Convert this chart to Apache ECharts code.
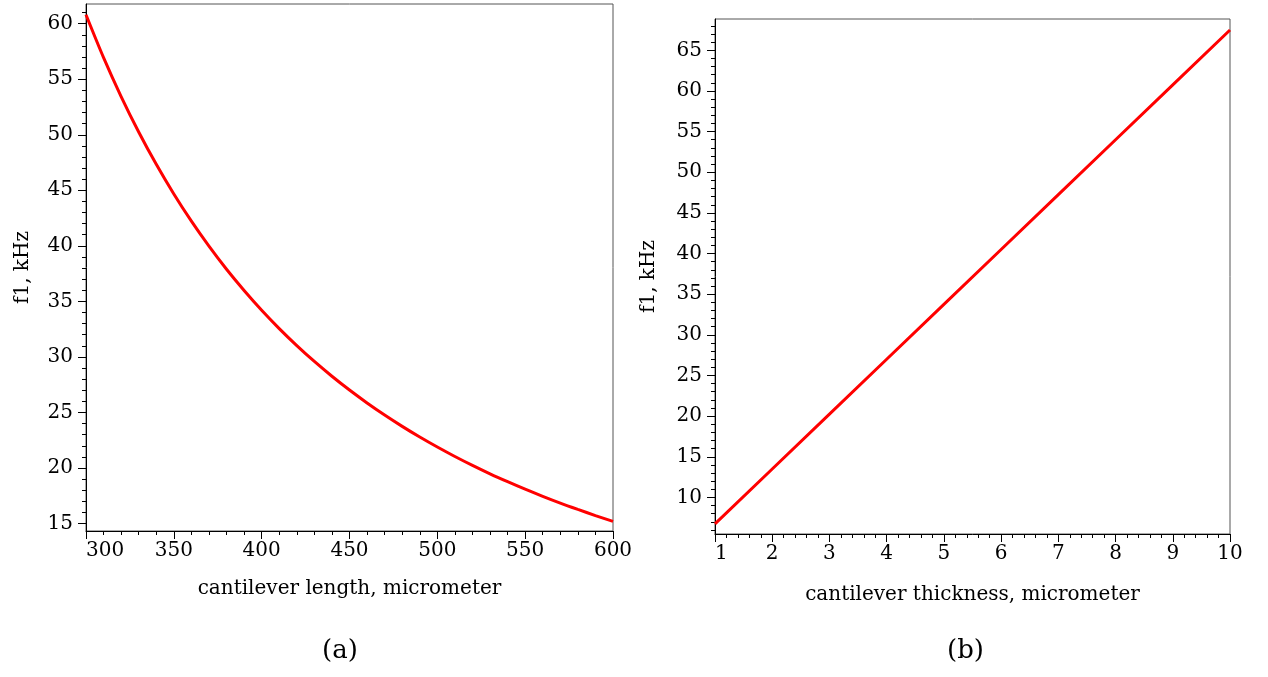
<!DOCTYPE html>
<html><head><meta charset="utf-8">
<script src="https://cdn.jsdelivr.net/npm/echarts@6/dist/echarts.min.js"></script>
<style>html,body{margin:0;padding:0;background:#fff}#c{width:1268px;height:677px}</style>
</head><body><div id="c"></div>
<script>
// Panel (a): frequency vs cantilever length
const lengthVals = [300, 310, 320, 330, 340, 350, 360, 370, 380, 390, 400, 410, 420, 430, 440, 450,
                    460, 470, 480, 490, 500, 510, 520, 530, 540, 550, 560, 570, 580, 590, 600];
const freqA      = [60.80, 56.94, 53.44, 50.25, 47.34, 44.67, 42.22, 39.97, 37.89, 35.98, 34.20, 32.55, 31.02, 29.59, 28.26, 27.02,
                    25.86, 24.77, 23.75, 22.79, 21.89, 21.04, 20.24, 19.48, 18.77, 18.09, 17.45, 16.84, 16.27, 15.72, 15.20];
// Panel (b): frequency vs cantilever thickness
const thickVals = [1, 2, 3, 4, 5, 6, 7, 8, 9, 10];
const freqB     = [6.75, 13.5, 20.25, 27.0, 33.75, 40.5, 47.25, 54.0, 60.75, 67.5];
// Tick labels
const xTicksA = [300, 350, 400, 450, 500, 550, 600];
const yTicksA = [15, 20, 25, 30, 35, 40, 45, 50, 55, 60];
const xTicksB = [1, 2, 3, 4, 5, 6, 7, 8, 9, 10];
const yTicksB = [10, 15, 20, 25, 30, 35, 40, 45, 50, 55, 60, 65];

function range(a, b, s) { const r = []; for (let v = a; v <= b + 1e-9; v += s) r.push(+v.toFixed(4)); return r; }
const minorXA = range(300, 600, 10);
const minorYA = range(15, 61, 1);
const minorXB = range(1, 10, 0.2);
const minorYB = range(6, 68, 1);

const FONT = 'DejaVu Serif';
const txt = { fontFamily: FONT, fontSize: 20, color: '#000' };
const lineBlack = { show: true, onZero: false, lineStyle: { color: '#000', width: 1 } };

function mainAxis(grid, pos, min, max, ticks, extra) {
  return Object.assign({
    type: 'value', gridIndex: grid, position: pos, min: min, max: max,
    axisLine: lineBlack,
    axisTick: { show: true, inside: false, length: 8, customValues: ticks, lineStyle: { color: '#000' } },
    axisLabel: Object.assign({ customValues: ticks, margin: 13 }, txt),
    splitLine: { show: false },
    nameTextStyle: txt
  }, extra || {});
}
function minorAxis(grid, pos, min, max, ticks) {
  return {
    type: 'value', gridIndex: grid, position: pos, min: min, max: max,
    axisLine: { show: false, onZero: false },
    axisTick: { show: true, inside: false, length: 4, customValues: ticks, lineStyle: { color: '#000' } },
    axisLabel: { show: false }, splitLine: { show: false }
  };
}

const option = {
  animation: false,
  backgroundColor: '#fff',
  grid: [
    { left: 86, top: 4, width: 527, height: 527, show: true, borderColor: '#555', borderWidth: 1 },
    { left: 715, top: 19, width: 515, height: 515, show: true, borderColor: '#555', borderWidth: 1 }
  ],
  xAxis: [
    mainAxis(0, 'bottom', 300, 600, xTicksA, { name: 'cantilever length, micrometer', nameLocation: 'middle', nameGap: 48,
      axisLabel: Object.assign({ customValues: xTicksA, margin: 10, alignMinLabel: 'left' }, txt) }),
    minorAxis(0, 'bottom', 300, 600, minorXA),
    mainAxis(1, 'bottom', 1, 10, xTicksB, { name: 'cantilever thickness, micrometer', nameLocation: 'middle', nameGap: 51,
      axisLabel: Object.assign({ customValues: xTicksB, margin: 10, alignMinLabel: 'left' }, txt) }),
    minorAxis(1, 'bottom', 1, 10, minorXB)
  ],
  yAxis: [
    mainAxis(0, 'left', 14.33, 61.77, yTicksA, { name: 'f1, kHz', nameLocation: 'middle', nameGap: 53 }),
    minorAxis(0, 'left', 14.33, 61.77, minorYA),
    mainAxis(1, 'left', 5.5, 68.85, yTicksB, { name: 'f1, kHz', nameLocation: 'middle', nameGap: 56 }),
    minorAxis(1, 'left', 5.5, 68.85, minorYB)
  ],
  series: [
    { type: 'line', xAxisIndex: 0, yAxisIndex: 0, showSymbol: false, smooth: 0.3,
      lineStyle: { color: '#ff0000', width: 3 }, itemStyle: { color: '#ff0000' },
      data: lengthVals.map((v, i) => [v, freqA[i]]) },
    { type: 'line', xAxisIndex: 2, yAxisIndex: 2, showSymbol: false,
      lineStyle: { color: '#ff0000', width: 3 }, itemStyle: { color: '#ff0000' },
      data: thickVals.map((v, i) => [v, freqB[i]]) }
  ],
  graphic: [
    { type: 'text', left: 322, top: 638, style: { text: '(a)', font: '26px "DejaVu Serif"', fill: '#000' } },
    { type: 'text', left: 947, top: 638, style: { text: '(b)', font: '26px "DejaVu Serif"', fill: '#000' } }
  ]
};
const chart = echarts.init(document.getElementById('c'), null, { renderer: 'canvas' });
chart.setOption(option);
</script></body></html>
